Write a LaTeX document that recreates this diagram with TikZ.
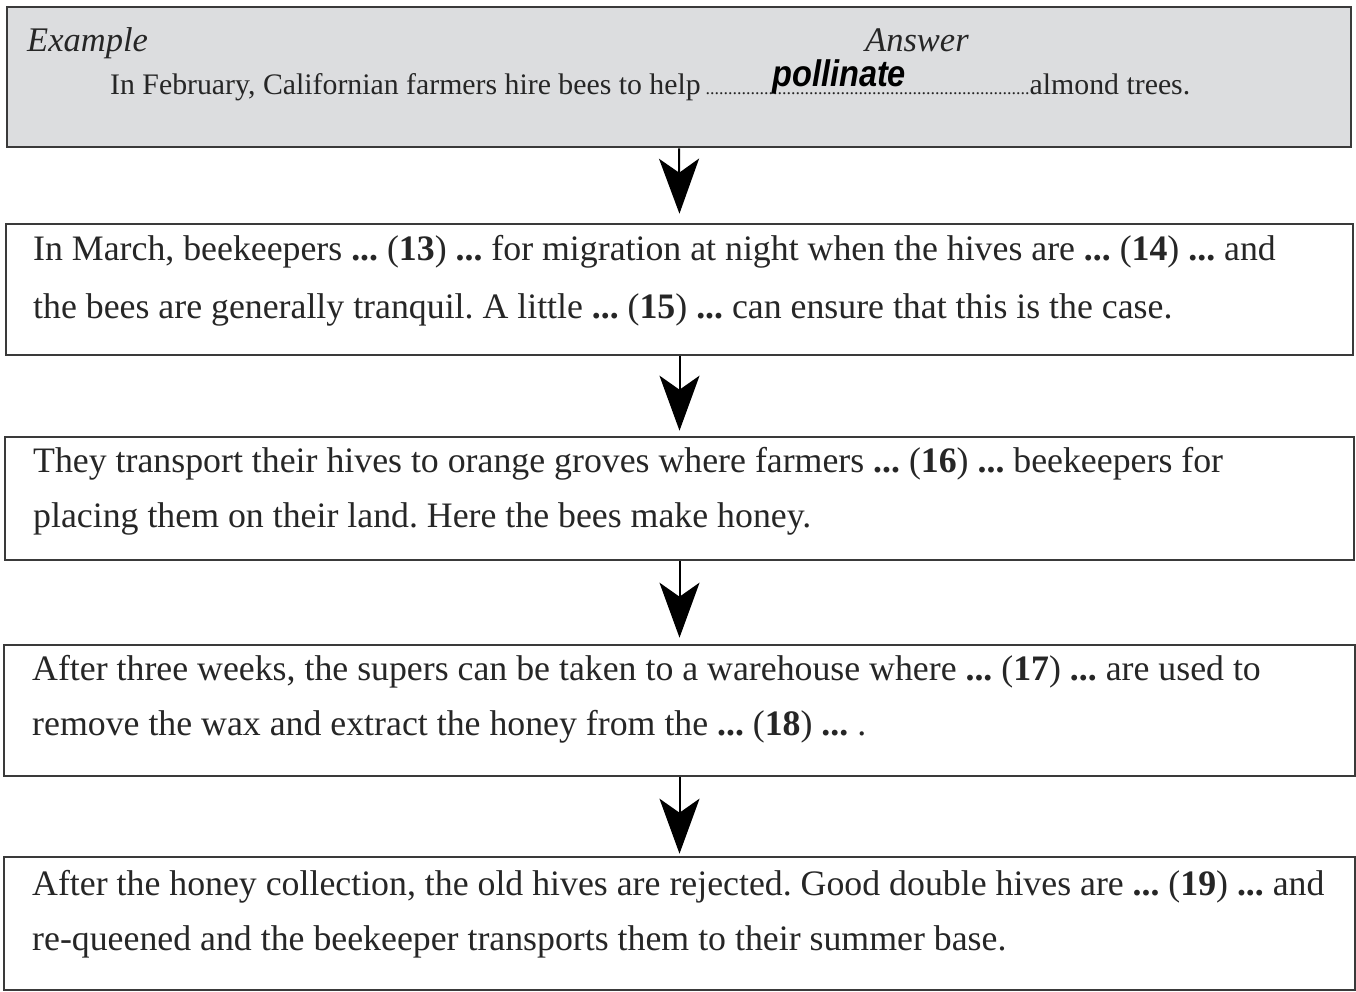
\documentclass[tikz,border=0pt]{standalone}
\usepackage{fontspec}
\setmainfont{Liberation Serif}
\newfontfamily\handfont[FakeStretch=0.88]{Liberation Sans}
\usetikzlibrary{arrows.meta}
\definecolor{ink}{HTML}{262626}
\definecolor{boxgray}{HTML}{DCDDDF}
\definecolor{edge}{HTML}{3A3A3A}
\newcommand{\dd}{\textbf{...}}
\newcommand{\qn}[1]{\dd{} (\textbf{#1}) \dd}
\begin{document}
\frenchspacing
\begin{tikzpicture}[x=1pt,y=-1pt,
  stepbox/.style={draw=edge,line width=2.6pt,inner sep=0pt},
  txt/.style={anchor=base west,inner sep=0pt,text=ink,font=\fontsize{35.8}{40}\selectfont},
  small/.style={anchor=base west,inner sep=0pt,text=ink,font=\fontsize{29.8}{34}\selectfont},
  lab/.style={anchor=base west,inner sep=0pt,text=ink,font=\itshape\fontsize{34.5}{38}\selectfont},
  hand/.style={anchor=base west,inner sep=0pt,text=black,font=\handfont\bfseries\itshape\fontsize{37}{40}\selectfont},
  flow/.style={-{Stealth[length=55pt,width=40pt,inset=14pt]},line width=2pt,draw=black}]
\useasboundingbox (0,0) rectangle (1356,992);
\fill[white] (0,0) rectangle (1356,992);
% boxes
\node[stepbox,fill=boxgray,minimum width=1344pt,minimum height=140pt] (b0) at (679,77) {};
\node[stepbox,minimum width=1347pt,minimum height=131pt] (b1) at (679.5,289.5) {};
\node[stepbox,minimum width=1349pt,minimum height=123pt] (b2) at (679.5,498.5) {};
\node[stepbox,minimum width=1351pt,minimum height=131pt] (b3) at (679.5,710.5) {};
\node[stepbox,minimum width=1351pt,minimum height=133pt] (b4) at (679.5,923.5) {};
% arrows
\draw[flow,shorten >=9pt] (b0.south) -- (b1.north);
\draw[flow,shorten >=5pt] (b1.south) -- (b2.north);
\draw[flow,shorten >=6pt] (b2.south) -- (b3.north);
\draw[flow,shorten >=2pt] (b3.south) -- (b4.north);
% example box
\node[lab] (ex) at (27,52) {Example};
\node[lab] (ans) at (865,52) {Answer};
\node[small] (t0) at (110,95) {In February, Californian farmers hire bees to help\,{\fontsize{18}{20}\selectfont........................................................................}almond trees.};
\node[hand] (pol) at (772,87) {pollinate};
% step texts
\node[txt] (t1a) at (33,260) {In March, beekeepers \qn{13} for migration at night when the hives are \qn{14} and};
\node[txt] (t1b) at (33,318) {the bees are generally tranquil. A little \qn{15} can ensure that this is the case.};
\node[txt] (t2a) at (33,472) {They transport their hives to orange groves where farmers \qn{16} beekeepers for};
\node[txt] (t2b) at (33,527) {placing them on their land. Here the bees make honey.};
\node[txt] (t3a) at (32,680) {After three weeks, the supers can be taken to a warehouse where \qn{17} are used to};
\node[txt] (t3b) at (32,735) {remove the wax and extract the honey from the \qn{18} .};
\node[txt] (t4a) at (32,895) {After the honey collection, the old hives are rejected. Good double hives are \qn{19} and};
\node[txt] (t4b) at (32,950) {re-queened and the beekeeper transports them to their summer base.};
\end{tikzpicture}
\end{document}
